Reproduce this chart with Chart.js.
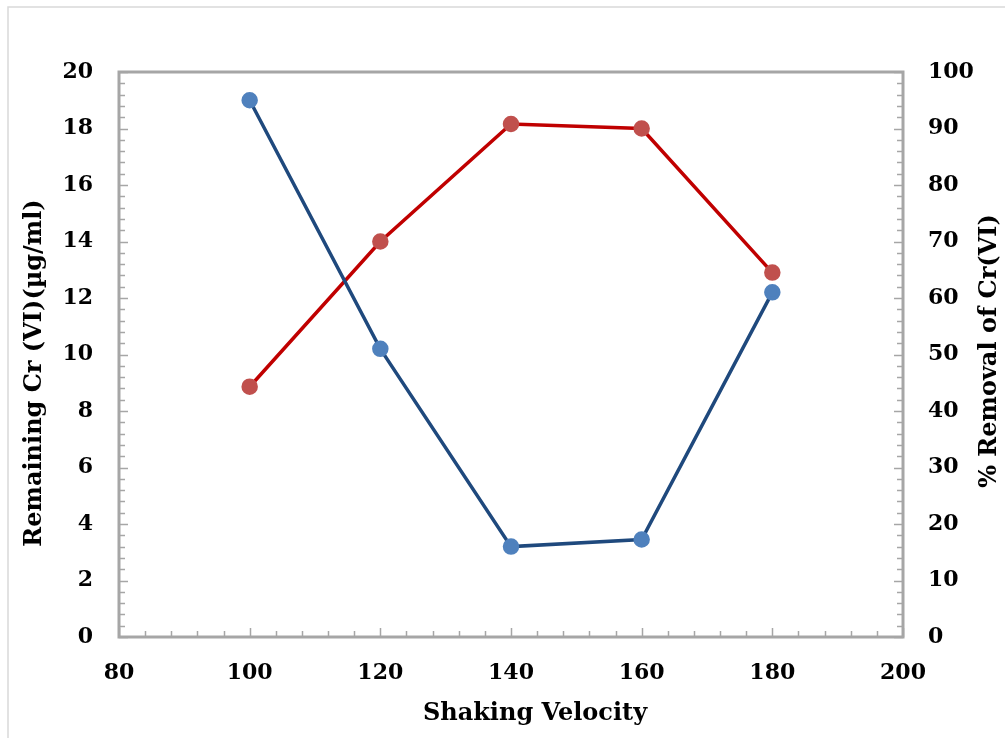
<!DOCTYPE html>
<html>
<head>
<meta charset="utf-8">
<script src="https://cdn.jsdelivr.net/npm/chart.js@4.4.1/dist/chart.umd.min.js"></script>
<style>
  html, body { margin: 0; padding: 0; background: #fff; }
</style>
</head>
<body>
<canvas id="chart" width="1005" height="738"></canvas>
<script>
// ====== Data ======
const velocity = [100, 120, 140, 160, 180];
const remainingCr = [19.0, 10.2, 3.2, 3.45, 12.2];   // left axis, µg/ml
const removalPct = [44.3, 70.0, 90.8, 90.0, 64.5];   // right axis, %

const xTitle = "Shaking Velocity";
const yLeftTitle = "Remaining Cr (VI)(µg/ml)";
const yRightTitle = "% Removal of Cr(VI)";

// ====== Style ======
const FONT = { family: "'DejaVu Serif', serif", weight: "bold", size: 22 };
const TITLE_FONT = "bold 24px 'DejaVu Serif', serif";
const AXIS_GREY = "#a6a6a6";

const points = (ys) => velocity.map((x, i) => ({ x: x, y: ys[i] }));

// frame, inward major/minor ticks, axis titles and the outer light border
const frameAndTicks = {
  id: "frameAndTicks",
  beforeDraw(chart) {
    const c = chart.ctx;
    c.save();
    c.strokeStyle = "#d9d9d9";
    c.lineWidth = 1.5;
    c.beginPath();
    c.moveTo(8, 760);
    c.lineTo(8, 7);
    c.lineTo(1020, 7);
    c.stroke();
    c.restore();
  },
  beforeDatasetsDraw(chart) {
    const c = chart.ctx;
    const a = chart.chartArea;
    const sx = chart.scales.x, yl = chart.scales.y, yr = chart.scales.y1;
    c.save();
    c.strokeStyle = AXIS_GREY;
    c.lineWidth = 1.5;
    c.beginPath();
    // x axis: minor every 4, major every 20
    for (let v = sx.min; v <= sx.max + 1e-9; v += 4) {
      const px = Math.round(sx.getPixelForValue(v)) + 0.5;
      const len = Math.abs(v % 20) < 1e-6 ? 9 : 6;
      c.moveTo(px, a.bottom);
      c.lineTo(px, a.bottom - len);
    }
    // left axis: minor every 0.4, major every 2
    for (let i = 0; i <= 50; i++) {
      const py = Math.round(yl.getPixelForValue(i * 0.4)) + 0.5;
      const len = i % 5 === 0 ? 9 : 6;
      c.moveTo(a.left, py);
      c.lineTo(a.left + len, py);
    }
    // right axis: minor every 2, major every 10
    for (let i = 0; i <= 50; i++) {
      const py = Math.round(yr.getPixelForValue(i * 2)) + 0.5;
      const len = i % 5 === 0 ? 9 : 6;
      c.moveTo(a.right, py);
      c.lineTo(a.right - len, py);
    }
    c.stroke();
    c.lineWidth = 3;
    c.strokeRect(a.left, a.top, a.right - a.left, a.bottom - a.top);

    // axis titles (both vertical ones read bottom-to-top)
    c.fillStyle = "#000";
    c.font = TITLE_FONT;
    c.textAlign = "center";
    c.textBaseline = "middle";
    c.fillText(xTitle, 535, 714);
    c.save();
    c.translate(35, 373);
    c.rotate(-Math.PI / 2);
    c.fillText(yLeftTitle, 0, 0);
    c.restore();
    c.save();
    c.translate(990, 351);
    c.rotate(-Math.PI / 2);
    c.fillText(yRightTitle, 0, 0);
    c.restore();
    c.restore();
  }
};

const ctx = document.getElementById("chart").getContext("2d");

new Chart(ctx, {
  type: "scatter",
  data: {
    datasets: [
      {
        label: "Remaining Cr (VI)",
        data: points(remainingCr),
        yAxisID: "y",
        showLine: true,
        borderColor: "#1f497d",
        borderWidth: 3.5,
        pointBackgroundColor: "#4f81bd",
        pointBorderColor: "#4f81bd",
        pointRadius: 6.5,
        tension: 0
      },
      {
        label: "% Removal",
        data: points(removalPct),
        yAxisID: "y1",
        showLine: true,
        borderColor: "#c00000",
        borderWidth: 3.5,
        pointBackgroundColor: "#c0504d",
        pointBorderColor: "#c0504d",
        pointRadius: 6.5,
        tension: 0
      }
    ]
  },
  options: {
    responsive: false,
    animation: false,
    layout: { padding: { top: 72, left: 0, right: 0, bottom: 0 } },
    plugins: {
      legend: { display: false },
      tooltip: { enabled: false }
    },
    scales: {
      x: {
        type: "linear",
        min: 80,
        max: 200,
        grid: { display: false, drawTicks: false },
        border: { display: false },
        ticks: { stepSize: 20, color: "#000", font: FONT, padding: 23 },
        afterFit: (s) => { s.height = 101; }
      },
      y: {
        position: "left",
        min: 0,
        max: 20,
        grid: { display: false, drawTicks: false },
        border: { display: false },
        ticks: { stepSize: 2, color: "#000", font: FONT, padding: 26 },
        afterFit: (s) => { s.width = 119; }
      },
      y1: {
        position: "right",
        min: 0,
        max: 100,
        grid: { display: false, drawTicks: false },
        border: { display: false },
        ticks: { stepSize: 10, color: "#000", font: FONT, padding: 25 },
        afterFit: (s) => { s.width = 102; }
      }
    }
  },
  plugins: [frameAndTicks]
});
</script>
</body>
</html>
